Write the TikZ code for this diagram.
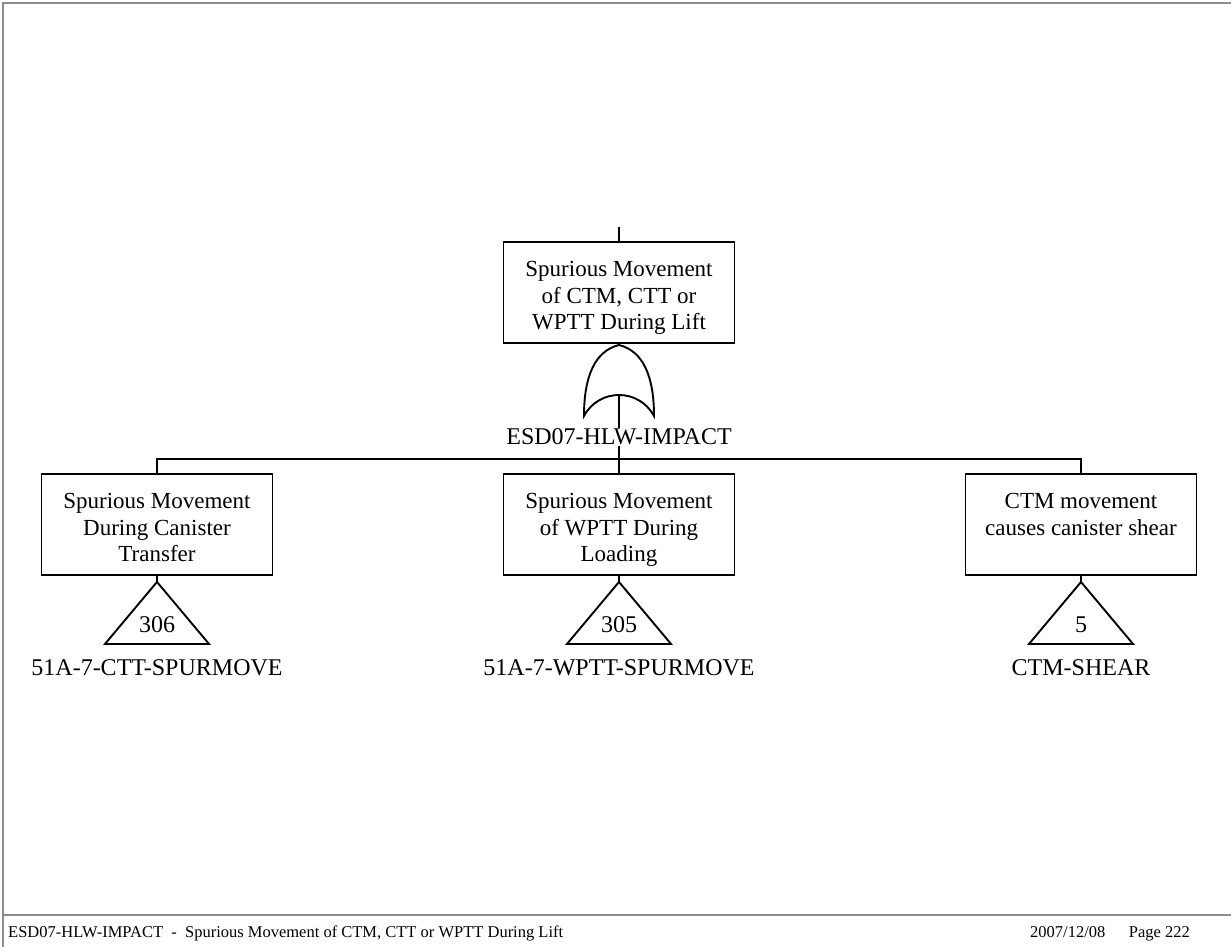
\documentclass[tikz,border=0pt]{standalone}
\usepackage{fontspec}
\setmainfont{Liberation Serif}
\usetikzlibrary{positioning}

\begin{document}
\begin{tikzpicture}[x=1pt, y=-1pt,
  font=\fontsize{23}{26.5}\selectfont, node distance=4pt,
  event/.style={draw, line width=1.9pt, align=center, minimum width=231pt,
                minimum height=101pt, inner sep=2pt},
  ident/.style={inner sep=1pt, font=\fontsize{24}{26.5}\selectfont},
  wire/.style={line width=1.9pt},
  frame/.style={draw=black!45, line width=1.4pt},
  foot/.style={font=\fontsize{16.5}{18}\selectfont, anchor=base west,
               inner sep=0pt}]
\useasboundingbox (0,0) rectangle (1231,947);
% page frame and footer rule
\draw[frame] (3,947) -- (3,3) -- (1231,3);
\draw[frame] (3,915) -- (1231,915);

% top event and its gate
\coordinate (topin) at (619,227);
\node[event] (top) at (619,292.5)
  {\rule{0pt}{29pt}Spurious Movement\\of CTM, CTT or\\WPTT During Lift\strut};
\coordinate (gate) at (619,345);
\coordinate (gatein) at (619,395);
\node[ident] (gatelbl) at (619,437) {ESD07-HLW-IMPACT};
\coordinate (bar) at (619,459);

% child events
\node[event] (left) at (157,524.5)
  {\rule{0pt}{29pt}Spurious Movement\\During Canister\\Transfer\strut};
\node[event] (mid) at (619,524.5)
  {\rule{0pt}{29pt}Spurious Movement\\of WPTT During\\Loading\strut};
\node[event] (right) at (1081,524.5)
  {\rule{0pt}{29pt}CTM movement\\causes canister shear\\\strut};

% transfer triangles
\coordinate (tleft) at ([yshift=-6pt]left.south);
\coordinate (tmid) at ([yshift=-6pt]mid.south);
\coordinate (tright) at ([yshift=-6pt]right.south);
\node[ident] (nleft) at ([yshift=-43pt]tleft) {306};
\node[ident] (nmid) at ([yshift=-43pt]tmid) {305};
\node[ident] (nright) at ([yshift=-43pt]tright) {5};
\node[ident] (lleft) at ([yshift=-86pt]tleft) {51A-7-CTT-SPURMOVE};
\node[ident] (lmid) at ([yshift=-86pt]tmid) {51A-7-WPTT-SPURMOVE};
\node[ident] (lright) at ([yshift=-86pt]tright) {CTM-SHEAR};

% footer
\node[foot] (foottitle) at (8,937)
  {ESD07-HLW-IMPACT\ \ -\ \ Spurious Movement of CTM, CTT or WPTT During Lift};
\node[foot] (footdate) at (1030,937) {2007/12/08};
\node[foot, anchor=base east] (footpage) at (1190,937) {Page 222};

% connectors
\draw[wire] (topin) -- (top.north);
\draw[wire] (gate) .. controls +(-24,6) and +(0,-40) .. ++(-35,71)
  .. controls +(15,-28) and +(-15,-28) .. ++(70,0)
  .. controls +(0,-40) and +(24,6) .. (gate);
\draw[wire] (gatein) -- (gatelbl.north);
\draw[wire] (gatelbl.south) -- (mid.north);
\draw[wire] (left.north) |- (bar) -| (right.north);
\draw[wire] (left.south) -- (tleft);
\draw[wire] (mid.south) -- (tmid);
\draw[wire] (right.south) -- (tright);
\draw[wire] (tleft) -- ++(-52,62) -- ++(104,0) -- cycle;
\draw[wire] (tmid) -- ++(-52,62) -- ++(104,0) -- cycle;
\draw[wire] (tright) -- ++(-52,62) -- ++(104,0) -- cycle;
\end{tikzpicture}
\end{document}
